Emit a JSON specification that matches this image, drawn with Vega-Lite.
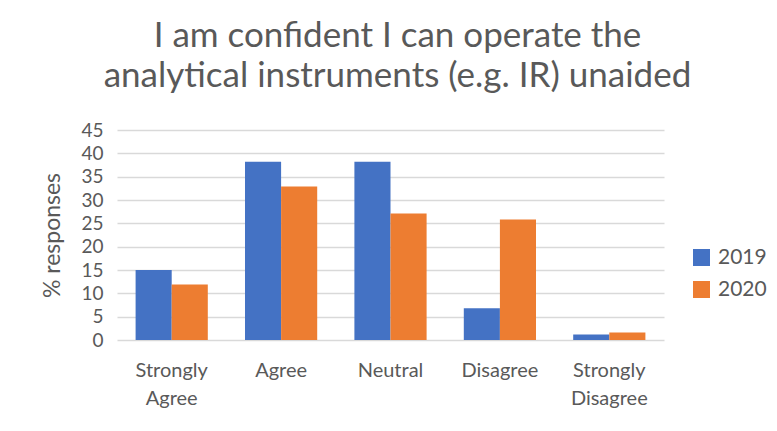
{
  "$schema": "https://vega.github.io/schema/vega-lite/v6.json",
  "autosize": "none",
  "width": 547,
  "height": 210,
  "padding": {"left": 117, "top": 130, "right": 113, "bottom": 91},
  "background": "white",
  "title": {
    "text": ["I am confident I can operate the", "analytical instruments (e.g. IR) unaided"],
    "font": "Lato",
    "fontSize": 35,
    "fontWeight": "normal",
    "color": "#595959",
    "lineHeight": 40,
    "anchor": "middle",
    "dx": 7,
    "offset": 27
  },
  "data": {
    "values": [
      {"response": "Strongly Agree", "year": "2019", "pct": 15.0},
      {"response": "Strongly Agree", "year": "2020", "pct": 11.9},
      {"response": "Agree", "year": "2019", "pct": 38.2},
      {"response": "Agree", "year": "2020", "pct": 32.9},
      {"response": "Neutral", "year": "2019", "pct": 38.2},
      {"response": "Neutral", "year": "2020", "pct": 27.1},
      {"response": "Disagree", "year": "2019", "pct": 6.8},
      {"response": "Disagree", "year": "2020", "pct": 25.8},
      {"response": "Strongly Disagree", "year": "2019", "pct": 1.2},
      {"response": "Strongly Disagree", "year": "2020", "pct": 1.6}
    ]
  },
  "mark": {"type": "bar"},
  "encoding": {
    "x": {
      "field": "response",
      "type": "nominal",
      "sort": ["Strongly Agree", "Agree", "Neutral", "Disagree", "Strongly Disagree"],
      "scale": {"paddingInner": 0.34, "paddingOuter": 0.17},
      "axis": {
        "title": null,
        "labelAngle": 0,
        "labelExpr": "split(datum.label, ' ')",
        "labelFont": "Lato",
        "labelFontSize": 20,
        "labelColor": "#595959",
        "labelLineHeight": 28,
        "labelPadding": 20,
        "ticks": false,
        "domain": false
      }
    },
    "xOffset": {"field": "year", "type": "nominal", "scale": {"paddingInner": 0}},
    "y": {
      "field": "pct",
      "type": "quantitative",
      "scale": {"domain": [0, 45]},
      "axis": {
        "title": "% responses",
        "titleFont": "Lato",
        "titleFontSize": 23,
        "titleFontWeight": "normal",
        "titleColor": "#595959",
        "titlePadding": 16,
        "values": [0, 5, 10, 15, 20, 25, 30, 35, 40, 45],
        "labelFont": "Lato",
        "labelFontSize": 19,
        "labelColor": "#595959",
        "labelPadding": 14,
        "ticks": false,
        "domain": false,
        "gridColor": "#d9d9d9",
        "gridWidth": 1.5
      }
    },
    "color": {
      "field": "year",
      "type": "nominal",
      "scale": {"domain": ["2019", "2020"], "range": ["#4472C4", "#ED7D31"]},
      "legend": {
        "title": null,
        "orient": "none",
        "legendX": 574,
        "legendY": 117,
        "symbolType": "square",
        "symbolSize": 289,
        "symbolStrokeWidth": 0,
        "labelFont": "Lato",
        "labelFontSize": 21,
        "labelColor": "#595959",
        "labelOffset": 6,
        "rowPadding": 10
      }
    }
  },
  "config": {"view": {"stroke": null}}
}
